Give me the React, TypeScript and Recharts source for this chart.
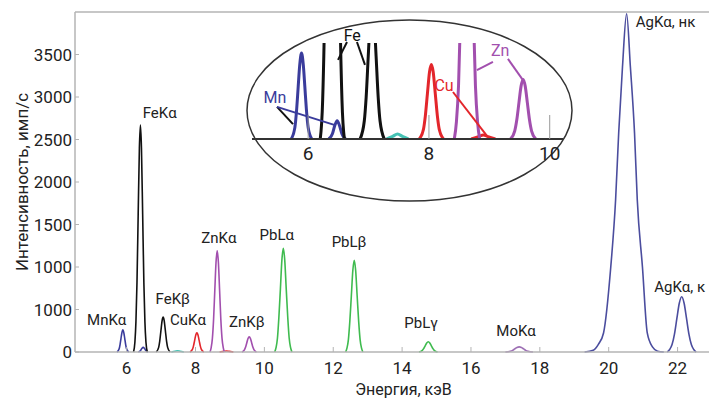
import React from 'react';
import { LineChart, Line, XAxis, YAxis, ReferenceDot, ReferenceLine } from 'recharts';

// энергия, кэВ / интенсивность, имп/с — по каждому пику отдельно
const mnKaEnergy = [5.72, 5.78, 5.81, 5.835, 5.86, 5.89, 5.92, 5.945, 5.97, 6.0, 6.06];
const mnKaCounts = [0, 35, 91, 158, 223, 260, 223, 158, 91, 35, 0];
const mnKbEnergy = [6.34, 6.4, 6.44, 6.48, 6.52, 6.56, 6.62];
const mnKbCounts = [0, 15, 40, 55, 40, 15, 0];

const feKaEnergy = [6.2, 6.24, 6.27, 6.3, 6.335, 6.37, 6.4, 6.43, 6.465, 6.5, 6.53, 6.56, 6.6];
const feKaCounts = [0, 117, 360, 815, 1620, 2400, 2670, 2400, 1620, 815, 360, 117, 0];
const feKbEnergy = [6.86, 6.93, 6.96, 6.995, 7.03, 7.06, 7.09, 7.125, 7.16, 7.19, 7.26];
const feKbCounts = [0, 55, 125, 250, 370, 410, 370, 250, 125, 55, 0];

const smallEnergy = [7.3, 7.4, 7.48, 7.56, 7.66];
const smallCounts = [0, 8, 15, 8, 0];

const cuKaEnergy = [7.84, 7.91, 7.94, 7.975, 8.01, 8.04, 8.07, 8.105, 8.14, 8.17, 8.24];
const cuKaCounts = [0, 30, 69, 137, 203, 225, 203, 137, 69, 30, 0];
const cuKbEnergy = [8.7, 8.82, 8.9, 8.98, 9.1];
const cuKbCounts = [0, 7, 12, 7, 0];

const znKaEnergy = [8.42, 8.455, 8.49, 8.525, 8.56, 8.595, 8.63, 8.665, 8.7, 8.735, 8.77, 8.805, 8.84];
const znKaCounts = [0, 52, 161, 387, 722, 1050, 1190, 1050, 722, 387, 161, 52, 0];
const znKbEnergy = [9.35, 9.42, 9.455, 9.49, 9.525, 9.56, 9.595, 9.63, 9.665, 9.7, 9.77];
const znKbCounts = [0, 24, 58, 109, 159, 180, 159, 109, 58, 24, 0];

const pbLaEnergy = [10.3, 10.34, 10.38, 10.42, 10.465, 10.51, 10.55, 10.59, 10.635, 10.68, 10.72, 10.76, 10.8];
const pbLaCounts = [0, 54, 165, 400, 740, 1090, 1220, 1090, 740, 400, 165, 54, 0];
const pbLbEnergy = [12.36, 12.4, 12.44, 12.48, 12.525, 12.57, 12.61, 12.65, 12.695, 12.74, 12.78, 12.82, 12.86];
const pbLbCounts = [0, 48, 146, 351, 656, 965, 1080, 965, 656, 351, 146, 48, 0];
const pbLgEnergy = [14.49, 14.58, 14.625, 14.67, 14.715, 14.76, 14.805, 14.85, 14.895, 14.94, 15.03];
const pbLgCounts = [0, 16, 39, 73, 106, 120, 106, 73, 39, 16, 0];

const moKaEnergy = [17.0, 17.14, 17.21, 17.27, 17.335, 17.4, 17.465, 17.53, 17.59, 17.66, 17.8];
const moKaCounts = [0, 8, 19, 36, 53, 60, 53, 36, 19, 8, 0];

const agNkEnergy = [19.3, 19.55, 19.7, 19.85, 20.06, 20.2, 20.29, 20.4, 20.52, 20.63, 20.75, 20.83, 20.98, 21.12, 21.27, 21.42, 21.6];
const agNkCounts = [0, 20, 90, 224, 1000, 1788, 2576, 3353, 3980, 3353, 2576, 1788, 1000, 224, 60, 10, 0];
const agKEnergy = [21.7, 21.77, 21.84, 21.91, 21.98, 22.05, 22.12, 22.19, 22.26, 22.33, 22.4, 22.47, 22.54];
const agKCounts = [0, 29, 88, 211, 395, 573, 650, 573, 395, 211, 88, 29, 0];

const xTicks = [6, 8, 10, 12, 14, 16, 18, 20, 22];
const yTicks = [0, 500, 1000, 1500, 2000, 2500, 3000, 3500];
const yTickLabels = ['0', '1000', '1000', '1500', '2000', '2500', '3000', '3500'];

const peakNames = ['MnKα', 'FeKα', 'FeKβ', 'CuKα', 'ZnKα', 'ZnKβ', 'PbLα', 'PbLβ', 'PbLγ', 'MoKα', 'AgKα, нк', 'AgKα, к'];
const peakNameX = [5.42, 6.96, 7.34, 7.78, 8.68, 9.49, 10.36, 12.46, 14.55, 17.31, 21.65, 22.06];
const peakNameY = [376, 2812, 624, 376, 1341, 353, 1376, 1294, 341, 247, 3882, 765];

const insetTicks = [6, 8, 10];
const insetNames = ['Mn', 'Fe', 'Cu', 'Zn'];
const insetNameX = [5.45, 6.73, 8.25, 9.18];
const insetNameY = [127, 314, 163, 269];

const pointerFromX = [5.484, 5.484, 6.643, 6.808, 8.398, 9.06, 9.308];
const pointerFromY = [97, 97, 293, 293, 142, 233, 242];
const pointerToX = [5.749, 6.444, 6.494, 6.941, 8.977, 8.795, 9.557];
const pointerToY = [45, 42, 239, 224, 6, 208, 178];

const MN = '#3a3c9c';
const FE = '#111111';
const TEAL = '#45c2b4';
const CU = '#e3262b';
const ZN = '#a24fae';
const PB = '#3fbb4f';
const MO = '#9d6fb4';
const AG = '#4b4d9e';
const AXIS = '#b4b4b4';
const TEXT = '#222222';

const toPoints = (energy: number[], counts: number[]) => energy.map((e, i) => ({ e, c: counts[i] }));

const peaks = [
  { key: 'mnKa', color: MN, data: toPoints(mnKaEnergy, mnKaCounts), inset: true },
  { key: 'mnKb', color: MN, data: toPoints(mnKbEnergy, mnKbCounts), inset: true },
  { key: 'feKa', color: FE, data: toPoints(feKaEnergy, feKaCounts), inset: true },
  { key: 'feKb', color: FE, data: toPoints(feKbEnergy, feKbCounts), inset: true },
  { key: 'small', color: TEAL, data: toPoints(smallEnergy, smallCounts), inset: true },
  { key: 'cuKa', color: CU, data: toPoints(cuKaEnergy, cuKaCounts), inset: true },
  { key: 'cuKb', color: CU, data: toPoints(cuKbEnergy, cuKbCounts), inset: true },
  { key: 'znKa', color: ZN, data: toPoints(znKaEnergy, znKaCounts), inset: true },
  { key: 'znKb', color: ZN, data: toPoints(znKbEnergy, znKbCounts), inset: true },
  { key: 'pbLa', color: PB, data: toPoints(pbLaEnergy, pbLaCounts), inset: false },
  { key: 'pbLb', color: PB, data: toPoints(pbLbEnergy, pbLbCounts), inset: false },
  { key: 'pbLg', color: PB, data: toPoints(pbLgEnergy, pbLgCounts), inset: false },
  { key: 'moKa', color: MO, data: toPoints(moKaEnergy, moKaCounts), inset: false },
  { key: 'agNk', color: AG, data: toPoints(agNkEnergy, agNkCounts), inset: false },
  { key: 'agK', color: AG, data: toPoints(agKEnergy, agKCounts), inset: false },
];

const insetNameColors = [MN, FE, CU, ZN];
const pointerColors = [FE, MN, FE, FE, CU, ZN, ZN];

const YTitle = ({ viewBox }: any) => {
  const x = viewBox.x + 22;
  const y = viewBox.y + viewBox.height / 2;
  return (
    <text x={x} y={y} transform={`rotate(-90, ${x}, ${y})`} textAnchor="middle" dominantBaseline="central" fontSize={17} fill={TEXT}>
      Интенсивность, имп/с
    </text>
  );
};

const XTitle = ({ viewBox }: any) => (
  <text x={viewBox.x + viewBox.width / 2 + 10} y={viewBox.y + 43} textAnchor="middle" fontSize={16} fill={TEXT}>
    Энергия, кэВ
  </text>
);

export default function App() {
  return (
    <div
      style={{
        position: 'absolute',
        left: 0,
        top: 0,
        width: 709,
        height: 399,
        overflow: 'hidden',
        background: '#fff',
        fontFamily: 'Roboto, sans-serif',
      }}
    >
      <LineChart width={712} height={399} margin={{ top: 0, right: 0, bottom: 0, left: 0 }}>
        <XAxis
          xAxisId="top"
          orientation="top"
          type="number"
          dataKey="e"
          domain={[4.5, 23]}
          ticks={xTicks}
          allowDataOverflow
          height={12}
          tick={false}
          tickSize={-5}
          axisLine={{ stroke: AXIS, strokeWidth: 1.5 }}
          tickLine={{ stroke: AXIS }}
        />
        <XAxis
          type="number"
          dataKey="e"
          domain={[4.5, 23]}
          ticks={xTicks}
          allowDataOverflow
          height={47}
          tickSize={-5}
          tickMargin={15}
          tick={{ fontSize: 17, fill: TEXT }}
          axisLine={{ stroke: AXIS, strokeWidth: 1.5 }}
          tickLine={{ stroke: AXIS }}
          label={<XTitle />}
        />
        <YAxis
          type="number"
          domain={[0, 4000]}
          ticks={yTicks}
          width={75}
          tickSize={-4}
          tickMargin={7}
          tickFormatter={(v: number, i: number) => yTickLabels[i]}
          tick={{ fontSize: 17, fill: TEXT }}
          axisLine={{ stroke: AXIS, strokeWidth: 1.5 }}
          tickLine={{ stroke: AXIS }}
          label={<YTitle />}
        />
        {peaks.map((p) => (
          <Line
            key={p.key}
            data={p.data}
            dataKey="c"
            type="monotone"
            stroke={p.color}
            strokeWidth={1.6}
            dot={false}
            activeDot={false}
            isAnimationActive={false}
          />
        ))}
        {peakNames.map((name, i) => (
          <ReferenceDot
            key={name}
            x={peakNameX[i]}
            y={peakNameY[i]}
            r={0}
            fill="none"
            stroke="none"
            label={{ value: name, position: 'center', fontSize: 15, fill: TEXT }}
          />
        ))}
      </LineChart>

      <svg width={709} height={399} style={{ position: 'absolute', left: 0, top: 0, pointerEvents: 'none' }}>
        <ellipse cx={409.5} cy={110.5} rx={162.5} ry={90.5} fill="#fff" stroke="#333" strokeWidth={1.5} />
      </svg>

      <div style={{ position: 'absolute', left: 240, top: 13 }}>
        <LineChart width={335} height={160} margin={{ top: 30, right: 12, bottom: 0, left: 12 }}>
          <XAxis
            type="number"
            dataKey="e"
            domain={[5.07, 10.22]}
            ticks={insetTicks}
            allowDataOverflow
            height={34}
            tickSize={-24}
            tickMargin={32}
            tick={{ fontSize: 19, fill: TEXT }}
            axisLine={{ stroke: '#333', strokeWidth: 2 }}
            tickLine={{ stroke: '#999' }}
          />
          <YAxis hide type="number" domain={[0, 290]} allowDataOverflow />
          {peaks
            .filter((p) => p.inset)
            .map((p) => (
              <Line
                key={p.key}
                data={p.data}
                dataKey="c"
                type="monotone"
                stroke={p.color}
                strokeWidth={3}
                dot={false}
                activeDot={false}
                isAnimationActive={false}
              />
            ))}
          {pointerFromX.map((x, i) => (
            <ReferenceLine
              key={`ptr-${i}`}
              segment={[
                { x, y: pointerFromY[i] },
                { x: pointerToX[i], y: pointerToY[i] },
              ]}
              stroke={pointerColors[i]}
              strokeWidth={2}
              ifOverflow="visible"
            />
          ))}
          {insetNames.map((name, i) => (
            <ReferenceDot
              key={name}
              x={insetNameX[i]}
              y={insetNameY[i]}
              r={0}
              fill="none"
              stroke="none"
              ifOverflow="visible"
              label={{ value: name, position: 'center', fontSize: 16, fill: insetNameColors[i] }}
            />
          ))}
        </LineChart>
      </div>
    </div>
  );
}
